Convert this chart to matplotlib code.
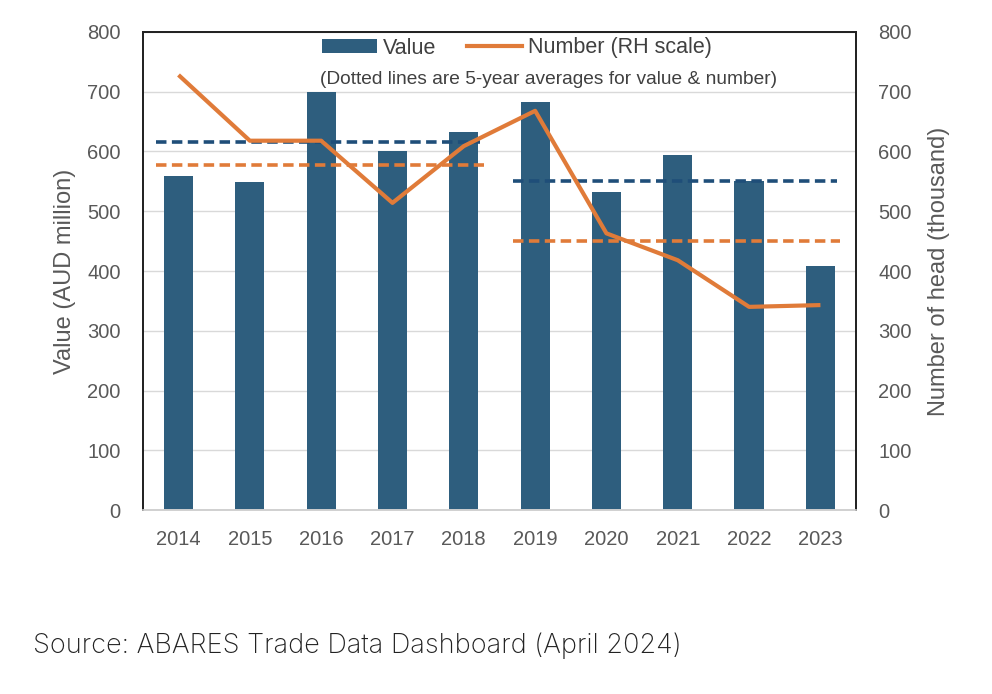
import matplotlib.pyplot as plt
from matplotlib.patches import Patch
from matplotlib.lines import Line2D
import numpy as np

years = ["2014", "2015", "2016", "2017", "2018", "2019", "2020", "2021", "2022", "2023"]
value = [559, 549, 700, 601, 633, 683, 532, 594, 551, 408]
number = [728, 618, 618, 514, 609, 668, 463, 418, 340, 343]
avg_value = [616, 551]
avg_number = [577, 450]
avg_periods = [(0, 4), (5, 9)]

bar_color = "#2E5E7E"
line_color = "#E07B39"
avg_blue = "#1F4E79"
tick_color = "#595959"

plt.rcParams['font.family'] = ['Liberation Sans', 'DejaVu Sans']

fig = plt.figure(figsize=(9.92, 6.94), dpi=100)
ax = fig.add_axes([0.144, 0.265, 0.719, 0.689])
ax2 = ax.twinx()

x = np.arange(len(years))
ax.bar(x, value, width=0.41, color=bar_color, zorder=2)
ax2.plot(x, number, color=line_color, lw=3.0, zorder=3, solid_capstyle='butt')

for (s, e), av, an in zip(avg_periods, avg_value, avg_number):
    ax.plot([s - 0.31, e + 0.23], [av, av], color=avg_blue, lw=2.6, ls=(0, (2.9, 1.5)), zorder=3)
    ax2.plot([s - 0.31, e + 0.28], [an, an], color=line_color, lw=2.6, ls=(0, (2.9, 1.5)), zorder=3)

for a in (ax, ax2):
    a.set_ylim(0, 800)
    a.set_yticks(range(0, 801, 100))
    a.tick_params(axis='y', length=0, labelsize=14.5, labelcolor=tick_color, pad=16)
ax.set_xlim(-0.5, 9.5)
ax.set_xticks(x)
ax.set_xticklabels(years)
ax.tick_params(axis='x', length=0, labelsize=14.5, labelcolor=tick_color, pad=14)
ax.yaxis.grid(True, color="#D9D9D9", lw=1, zorder=0)
ax.set_axisbelow(True)

for a in (ax, ax2):
    for sp in ('left', 'right', 'top'):
        a.spines[sp].set_color('#222222')
        a.spines[sp].set_linewidth(1.3)
    a.spines['bottom'].set_color('#D0D0D0')
    a.spines['bottom'].set_linewidth(1.2)

ax.set_ylabel("Value (AUD million)", fontsize=17, color=tick_color, labelpad=8)
ax2.set_ylabel("Number of head (thousand)", fontsize=17, color=tick_color, labelpad=12)

handles = [Patch(facecolor=bar_color, edgecolor='none'),
           Line2D([0], [0], color=line_color, lw=3.0)]
leg = ax.legend(handles, ["Value", "Number (RH scale)"], loc='center',
                bbox_to_anchor=(517 / 992, 1 - 48 / 694), bbox_transform=fig.transFigure,
                ncol=2, frameon=False, fontsize=15.5, handlelength=2.55, handleheight=0.65,
                columnspacing=1.45, handletextpad=0.25, labelcolor='#404040')
fig.text(549 / 992, 1 - 79 / 694, "(Dotted lines are 5-year averages for value & number)",
         ha='center', va='center', fontsize=13.8, color='#404040')

fig.text(33 / 992, 1 - 646 / 694, "Source: ABARES Trade Data Dashboard (April 2024)",
         ha='left', va='center', fontsize=19.5, color='#222222', family=['Inter', 'DejaVu Sans'],
         fontweight='light')

fig.savefig("out.png", dpi=100, facecolor='white')
